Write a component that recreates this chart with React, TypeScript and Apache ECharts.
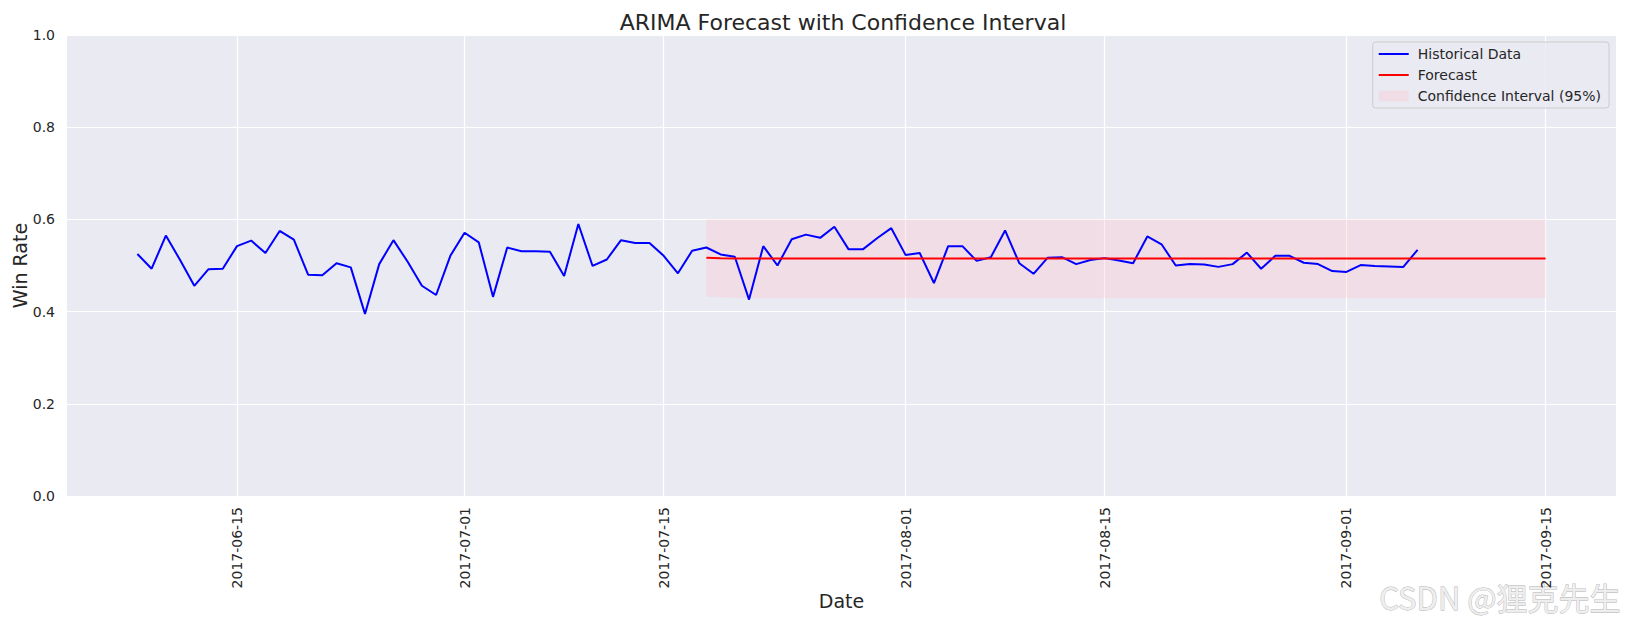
import React, { useEffect, useRef } from "react";
import * as echarts from "echarts";

const HIST_START = "2017-06-08";
const HIST_VALUES = [
  0.525, 0.493, 0.565, 0.512, 0.456, 0.492, 0.493, 0.542, 0.554, 0.527,
  0.575, 0.556, 0.480, 0.479, 0.505, 0.496, 0.395, 0.503, 0.555, 0.508,
  0.456, 0.436, 0.521, 0.571, 0.550, 0.432, 0.539, 0.531, 0.531, 0.530,
  0.477, 0.590, 0.499, 0.513, 0.555, 0.549, 0.549, 0.521, 0.483, 0.532,
  0.539, 0.524, 0.519, 0.426, 0.542, 0.500, 0.557, 0.567, 0.560, 0.584,
  0.535, 0.535, 0.559, 0.581, 0.523, 0.527, 0.462, 0.542, 0.542, 0.510,
  0.518, 0.576, 0.505, 0.482, 0.517, 0.518, 0.503, 0.512, 0.516, 0.511,
  0.505, 0.563, 0.546, 0.500, 0.503, 0.502, 0.497, 0.503, 0.528, 0.493,
  0.521, 0.521, 0.506, 0.503, 0.488, 0.486, 0.501, 0.499, 0.498, 0.497,
  0.534,
];

const FC_START = "2017-07-18";
const FC_VALUES = [
  0.517, 0.5155, 0.515, 0.515, 0.515, 0.515, 0.515, 0.515, 0.515, 0.515,
  0.515, 0.515, 0.515, 0.515, 0.515, 0.515, 0.515, 0.515, 0.515, 0.515,
  0.515, 0.515, 0.515, 0.515, 0.515, 0.515, 0.515, 0.515, 0.515, 0.515,
  0.515, 0.515, 0.515, 0.515, 0.515, 0.515, 0.515, 0.515, 0.515, 0.515,
  0.515, 0.515, 0.515, 0.515, 0.515, 0.515, 0.515, 0.515, 0.515, 0.515,
  0.515, 0.515, 0.515, 0.515, 0.515, 0.515, 0.515, 0.515, 0.515, 0.515,
];
const CI_LOWER = [
  0.433, 0.431, 0.430, 0.429, 0.429, 0.429, 0.429, 0.429, 0.429, 0.429,
  0.429, 0.429, 0.429, 0.429, 0.429, 0.429, 0.429, 0.429, 0.429, 0.429,
  0.429, 0.429, 0.429, 0.429, 0.429, 0.429, 0.429, 0.429, 0.429, 0.429,
  0.429, 0.429, 0.429, 0.429, 0.429, 0.429, 0.429, 0.429, 0.429, 0.429,
  0.429, 0.429, 0.429, 0.429, 0.429, 0.429, 0.429, 0.429, 0.429, 0.429,
  0.429, 0.429, 0.429, 0.429, 0.429, 0.429, 0.429, 0.429, 0.429, 0.429,
];
const CI_UPPER = [
  0.600, 0.600, 0.600, 0.600, 0.600, 0.600, 0.600, 0.600, 0.600, 0.600,
  0.600, 0.600, 0.600, 0.600, 0.600, 0.600, 0.600, 0.600, 0.600, 0.600,
  0.600, 0.600, 0.600, 0.600, 0.600, 0.600, 0.600, 0.600, 0.600, 0.600,
  0.600, 0.600, 0.600, 0.600, 0.600, 0.600, 0.600, 0.600, 0.600, 0.600,
  0.600, 0.600, 0.600, 0.600, 0.600, 0.600, 0.600, 0.600, 0.600, 0.600,
  0.600, 0.600, 0.600, 0.600, 0.600, 0.600, 0.600, 0.600, 0.600, 0.600,
];

const X_TICKS = ["2017-06-15", "2017-07-01", "2017-07-15", "2017-08-01", "2017-08-15", "2017-09-01", "2017-09-15"];
const X_MIN = "2017-06-03T01:12:00Z";
const X_MAX = "2017-09-19T22:48:00Z";

const DAY = 86400000;
const ts = (s: string) => Date.parse(s.length === 10 ? s + "T00:00:00Z" : s);
const fmt = (v: number) => {
  const d = new Date(v);
  const p = (n: number) => String(n).padStart(2, "0");
  return `${d.getUTCFullYear()}-${p(d.getUTCMonth() + 1)}-${p(d.getUTCDate())}`;
};

export default function App() {
  const ref = useRef<HTMLDivElement>(null);
  useEffect(() => {
    document.body.style.margin = "0";
    document.body.style.overflow = "hidden";
    const chart = echarts.init(ref.current!, null, { renderer: "svg" });
    const h0 = ts(HIST_START);
    const f0 = ts(FC_START);
    const hist = HIST_VALUES.map((v, i) => [h0 + i * DAY, v]);
    const fc = FC_VALUES.map((v, i) => [f0 + i * DAY, v]);
    const bandData = CI_LOWER.map((v, i) => [f0 + i * DAY, v, CI_UPPER[i]]);
    const tickVals = X_TICKS.map(ts);
    const font = "DejaVu Sans";
    const pink = "rgba(255,192,203,0.3)";

    chart.setOption({
      animation: false,
      backgroundColor: "#ffffff",
      textStyle: { fontFamily: font },
      title: {
        text: "ARIMA Forecast with Confidence Interval",
        left: 838,
        top: 6,
        textAlign: "center",
        textStyle: { fontFamily: font, fontSize: 22, fontWeight: "normal", color: "#262626" },
      },
      legend: {
        orient: "vertical",
        right: 17,
        top: 42,
        padding: [5, 8, 5, 5],
        itemWidth: 30,
        itemHeight: 11,
        itemGap: 7,
        backgroundColor: "rgba(234,234,242,0.8)",
        borderColor: "#cccccc",
        borderWidth: 1,
        borderRadius: 3,
        textStyle: { fontFamily: font, fontSize: 14, color: "#262626", padding: [0, 0, 0, 4] },
        data: [
          { name: "Historical Data", itemStyle: { opacity: 0 }, lineStyle: { width: 2, color: "#0000ff" } },
          { name: "Forecast", itemStyle: { opacity: 0 }, lineStyle: { width: 2, color: "#ff0000" } },
          { name: "Confidence Interval (95%)", icon: "rect", itemStyle: { color: pink } },
        ],
      },
      grid: {
        left: 67, right: 10, top: 35, bottom: 124,
        containLabel: false, outerBoundsMode: "none",
        backgroundColor: "#eaeaf2", show: true, borderWidth: 0,
      },
      xAxis: {
        type: "value",
        min: ts(X_MIN),
        max: ts(X_MAX),
        name: "Date",
        nameLocation: "middle",
        nameGap: 95,
        nameMoveOverlap: false,
        nameTextStyle: { fontFamily: font, fontSize: 19, color: "#262626" },
        axisLine: { show: false },
        axisTick: { show: false, customValues: tickVals },
        axisLabel: {
          customValues: tickVals,
          rotate: 90,
          margin: 11,
          fontFamily: font,
          fontSize: 14,
          color: "#262626",
          formatter: (v: number) => fmt(v),
        },
        splitLine: { show: true, lineStyle: { color: "#ffffff", width: 1.2 } },
      },
      yAxis: {
        type: "value",
        min: 0,
        max: 1,
        interval: 0.2,
        name: "Win Rate",
        nameLocation: "middle",
        nameGap: 38,
        nameMoveOverlap: false,
        nameTextStyle: { fontFamily: font, fontSize: 19, color: "#262626" },
        axisLine: { show: false },
        axisTick: { show: false },
        axisLabel: {
          margin: 12,
          fontFamily: font,
          fontSize: 14,
          color: "#262626",
          formatter: (v: number) => v.toFixed(1),
        },
        splitLine: { show: true, lineStyle: { color: "#ffffff", width: 1.2 } },
      },
      series: [
        {
          name: "Confidence Interval (95%)",
          type: "custom",
          data: bandData,
          encode: { x: 0, y: [1, 2] },
          itemStyle: { color: pink },
          clip: true,
          z: 1,
          renderItem: (params: any, api: any) => {
            if (params.dataIndex !== 0) return null;
            const top = bandData.map((d) => api.coord([d[0], d[2]]));
            const bot = bandData.map((d) => api.coord([d[0], d[1]])).reverse();
            return {
              type: "polygon",
              shape: { points: top.concat(bot) },
              style: { fill: pink, stroke: "none" },
            };
          },
        },
        {
          name: "Historical Data",
          type: "line",
          data: hist,
          symbol: "none",
          itemStyle: { color: "#0000ff" },
          lineStyle: { color: "#0000ff", width: 2 },
          z: 3,
        },
        {
          name: "Forecast",
          type: "line",
          data: fc,
          symbol: "none",
          itemStyle: { color: "#ff0000" },
          lineStyle: { color: "#ff0000", width: 2 },
          z: 4,
        },
      ],
      graphic: [
        {
          type: "text",
          right: 5,
          bottom: 8,
          style: {
            text: "CSDN @狸克先生",
            fontFamily: "Noto Sans CJK SC",
            fontSize: 31,
            fill: "#eeeeee",
            stroke: "#b0b0b0",
            lineWidth: 0.8,
          },
        },
      ],
    });
    return () => chart.dispose();
  }, []);
  return <div ref={ref} style={{ width: 1626, height: 620 }} />;
}
